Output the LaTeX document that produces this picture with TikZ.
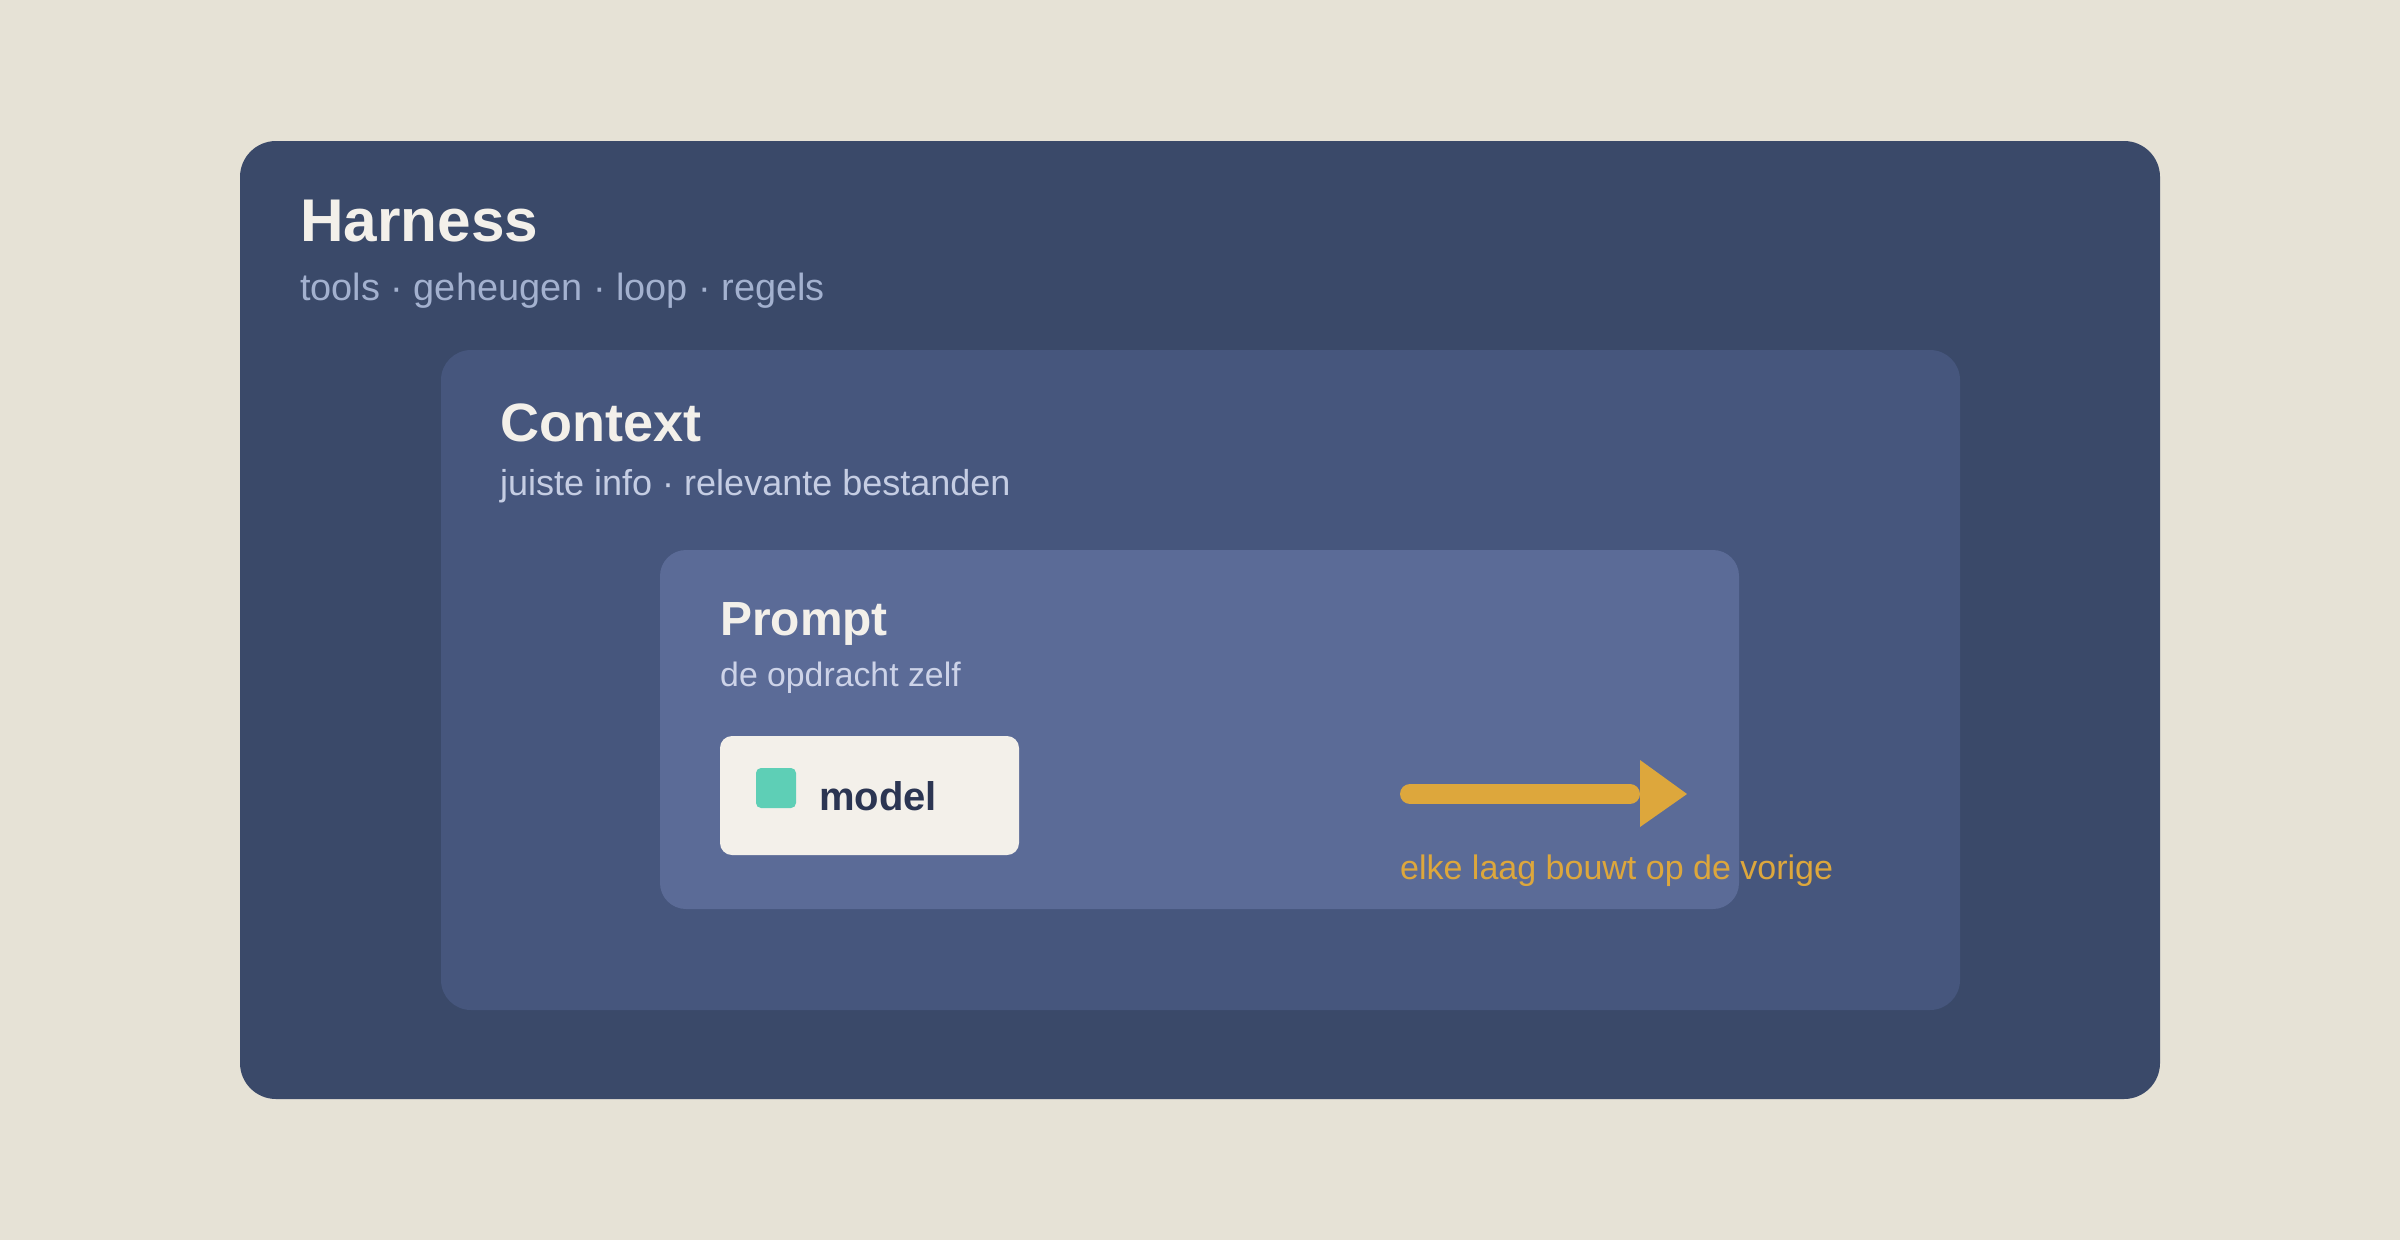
\documentclass[tikz,border=0pt]{standalone}
\usepackage{fontspec}
\setmainfont{Liberation Sans}
\usepackage{xcolor}
\usepackage{tikz}

\definecolor{paper}{HTML}{E6E2D6}
\definecolor{harnessblue}{HTML}{3A4969}
\definecolor{contextblue}{HTML}{46567D}
\definecolor{promptblue}{HTML}{5B6B97}
\definecolor{cream}{HTML}{F3F0EA}
\definecolor{mint}{HTML}{5ECFB6}
\definecolor{amber}{HTML}{DDA73C}
\definecolor{ink}{HTML}{2B3552}
\definecolor{harnesssub}{HTML}{A3B1CF}
\definecolor{contextsub}{HTML}{C5CDE3}
\definecolor{promptsub}{HTML}{CDD3E8}

\begin{document}
\begin{tikzpicture}[x=1pt,y=-1pt,
		every node/.style={inner sep=0pt,anchor=base west},
		title/.style={text=cream,font=\bfseries\fontsize{#1}{#1}\selectfont},
		sub/.style={font=\fontsize{#1}{#1}\selectfont}]
			\fill[paper] (0,0) rectangle (2400,1240);
			\useasboundingbox (0,0) rectangle (2400,1240);
			% layers
			\fill[harnessblue, rounded corners=36pt] (240,141) rectangle (2160,1099);
			\fill[contextblue, rounded corners=30pt] (441,350) rectangle (1960,1010);
			\fill[promptblue, rounded corners=26pt] (660,550) rectangle (1739,909);
			\fill[cream, rounded corners=12pt] (720,736) rectangle (1019,855);
			\fill[mint, rounded corners=5pt] (756,768) rectangle (796,808);
			% labels
			\node[title=60.3] (harness) at (300,241) {Harness};
			\node[sub=37.9,text=harnesssub] (harnesstxt) at (300,300) {tools · geheugen · loop · regels};
			\node[title=54] (context) at (500,441) {Context};
			\node[sub=36,text=contextsub] (contexttxt) at (500,495) {juiste info · relevante bestanden};
			\node[title=47.9] (prompt) at (720,635) {Prompt};
			\node[sub=33.8,text=promptsub] (prompttxt) at (720,686) {de opdracht zelf};
			\node[font=\bfseries\fontsize{40}{40}\selectfont,text=ink] (model) at (819,810) {model};
			% arrow
			\coordinate (arrowstart) at (1410,794);
			\coordinate (arrowend) at (1630,794);
			\draw[amber, line width=20pt, line cap=round] (arrowstart) -- (arrowend);
			\fill[amber] (1640,760) -- (1687,794) -- (1640,827) -- cycle;
			\node[sub=34,text=amber] (note) at (1400,879) {elke laag bouwt op de vorige};
		\end{tikzpicture}
\end{document}
